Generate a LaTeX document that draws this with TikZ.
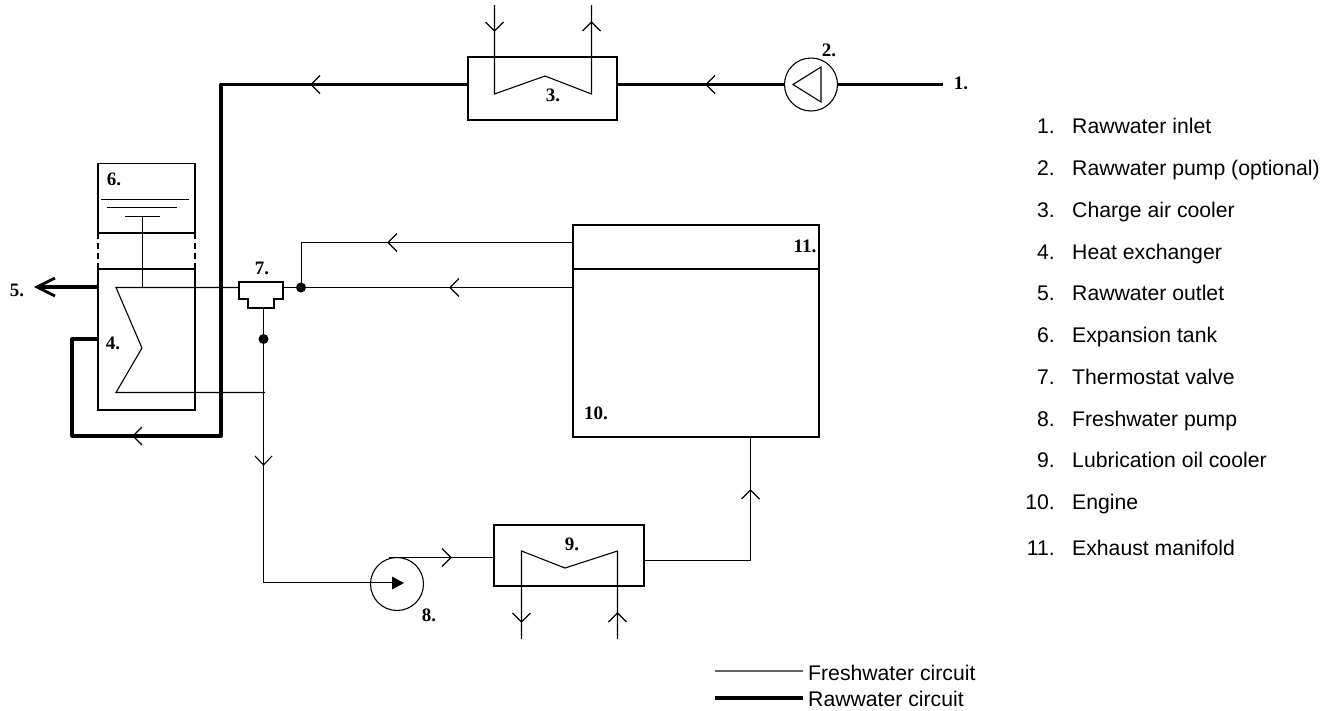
\documentclass[tikz,border=0pt]{standalone}
\usepackage{fontspec}
\setmainfont{Liberation Serif}
\newfontfamily\lsans{Liberation Sans}
\tikzset{
 x=1pt,y=-1pt,
 thinline/.style={line width=1.1pt,black},
 heavy/.style={line width=3.2pt,black,line join=round},
 boxline/.style={line width=1.8pt,black},
 num/.style={font=\fontsize{19}{19}\selectfont\bfseries,inner sep=0pt},
 item/.style={font=\lsans\fontsize{21.2}{21.2}\selectfont,inner sep=0pt,anchor=base west},
 itemno/.style={font=\lsans\fontsize{21.2}{21.2}\selectfont,inner sep=0pt,anchor=base east},
 dotn/.style={circle,fill=black,inner sep=0pt,minimum size=10pt},
 circ/.style={draw,circle,line width=1.1pt,inner sep=0pt,minimum size=53pt},
}
\newcommand{\flowmark}[2]{\draw[thinline] (#1+9,#2-9) -- (#1,#2) -- (#1+9,#2+9);}
\begin{document}
\begin{tikzpicture}
\useasboundingbox (0,0) rectangle (1337,710);
\coordinate (in1) at (943,84.5);
\node[circ] (p2) at (811,84.5) {};
\node[circ] (p8) at (397,584) {};
\draw[boxline] (468,57) rectangle (617,120);
\draw[boxline] (494,525) rectangle (644,586);
\draw[boxline] (98,163.5) rectangle (195,233);
\draw[boxline] (98,269) rectangle (195,410);
\draw[line width=1.4pt] (573,225) rectangle (819,437);
\draw[line width=2.8pt] (573,269) -- (819,269);
\draw[line width=1.1pt,dash pattern=on 6pt off 4pt] (98,233) -- (98,269) (195,233) -- (195,269);
% thick circuit
\draw[heavy] (in1) -- (p2.east);
\draw[heavy] (p2.west) -- (617,84.5);
\draw[heavy] (468,84.5) -- (221,84.5) -- (221,436) -- (72,436) -- (72,339) -- (98,339);
\draw[heavy] (98,287) -- (38,287);
\draw[line width=2.8pt,line join=miter] (55,278) -- (37,287) -- (55,296);
\flowmark{706}{84.5}
\flowmark{311}{84.5}
\flowmark{133}{436}
% pump 2 triangle
\draw[thinline] (821,67) -- (793,84.5) -- (821,102) -- cycle;
% cooler 3
\draw[thinline] (494.5,5) -- (494.5,94) -- (545,76) -- (591.5,94) -- (591.5,5);
\draw[thinline] (485.5,22) -- (494.5,31) -- (503.5,22);
\draw[thinline] (582.5,31) -- (591.5,22) -- (600.5,31);
% expansion tank
\draw[thinline] (101,199.5) -- (189,199.5) (107,207.5) -- (177,207.5) (125,216.5) -- (160,216.5);
\draw[thinline] (142.5,216.5) -- (142.5,287.5);
% heat exchanger
\draw[thinline] (239,287.5) -- (116,287.5) -- (142,348) -- (116,392.5) -- (265,392.5);
\draw[line width=1.7pt] (177,287.5) -- (186,287.5);
% valve
\draw[line width=1.5pt] (239,282) -- (283,282) -- (283,299) -- (274,299) -- (274,308) -- (248,308) -- (248,299) -- (239,299) -- cycle;
\node[dotn] (d1) at (301,287.5) {};
\node[dotn] (d2) at (263.5,339) {};
\draw[thinline] (283,287.5) -- (573,287.5);
\draw[thinline] (301.5,287.5) -- (301.5,242.5) -- (573,242.5);
\flowmark{388}{242.5}
\flowmark{450}{287.5}
\draw[thinline] (263.5,308) -- (263.5,582.5) -- (393,582.5);
\fill (392,576.5) -- (404,583) -- (392,589.5) -- cycle;
\draw[thinline] (255,456) -- (263.5,465) -- (272,456);
\draw[thinline] (389,557.5) -- (494,557.5);
\draw[thinline] (442,548.5) -- (451,557.5) -- (442,566.5);
% cooler 9
\draw[thinline] (521.5,639) -- (521.5,551) -- (565,568) -- (617.5,551) -- (617.5,639);
\draw[thinline] (512.5,613) -- (521.5,622) -- (530.5,613);
\draw[thinline] (608.5,622) -- (617.5,613) -- (626.5,622);
\draw[thinline] (644,560.5) -- (750.5,560.5) -- (750.5,437);
\draw[thinline] (741.5,499) -- (750.5,490) -- (759.5,499);
% labels
\node[num] (l1) at (961,83) {1.};
\node[num] (l2) at (829,50) {2.};
\node[num] (l3) at (553,95) {3.};
\node[num] (l4) at (113,343) {4.};
\node[num] (l5) at (17,290) {5.};
\node[num] (l6) at (114,179) {6.};
\node[num] (l7) at (262,268) {7.};
\node[num] (l8) at (429,615) {8.};
\node[num] (l9) at (572,544) {9.};
\node[num] (l10) at (596,413) {10.};
\node[num] (l11) at (805,246) {11.};
% list
\foreach \n/\t/\y in {1/Rawwater inlet/133.5,2/Rawwater pump (optional)/175.5,3/Charge air cooler/217,4/Heat exchanger/259,5/Rawwater outlet/300.5,6/Expansion tank/342.5,7/Thermostat valve/384,8/Freshwater pump/426,9/Lubrication oil cooler/467.7,10/Engine/509.5,11/Exhaust manifold/555}{
 \node[itemno] (n\n) at (1055,\y) {\n.};
 \node[item] (t\n) at (1072,\y) {\t};
}
% legend
\coordinate (la) at (715,671); \coordinate (lb) at (715,698);
\coordinate (lc) at (803,671); \coordinate (ld) at (803,698);
\node[item] (lt1) at (808,680) {Freshwater circuit};
\node[item] (lt2) at (808,706) {Rawwater circuit};
\draw[line width=1.1pt,black!60] (la) -- (lc);
\draw[heavy] (lb) -- (ld);
\end{tikzpicture}
\end{document}
